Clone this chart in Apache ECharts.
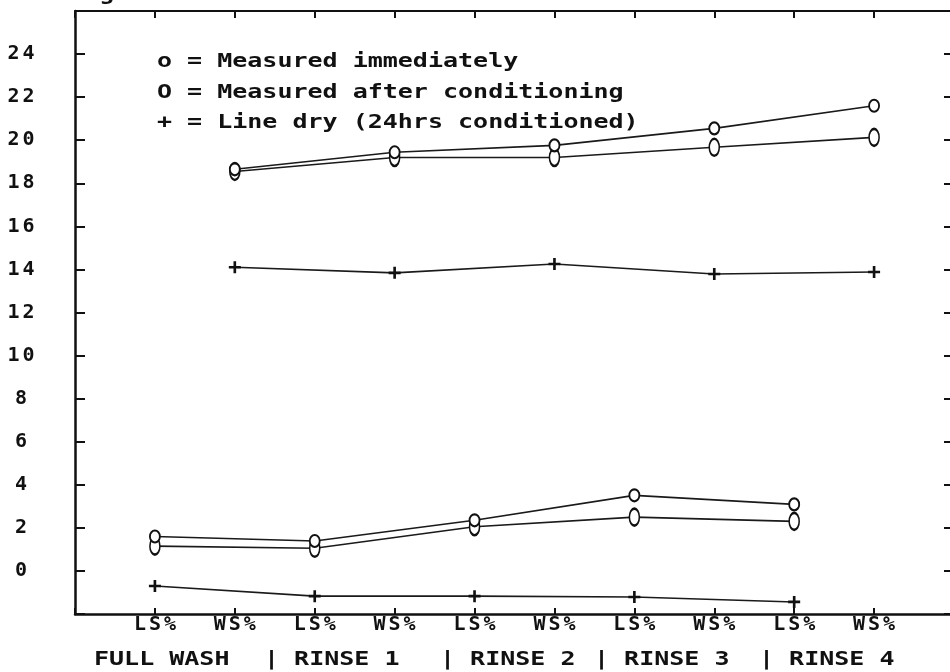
<!DOCTYPE html>
<html><head><meta charset="utf-8">
<script src="https://cdn.jsdelivr.net/npm/echarts@6/dist/echarts.min.js"></script>
<style>html,body{margin:0;padding:0;background:#fff}#c{width:950px;height:672px}</style>
</head><body><div id="c"></div>
<script>
// ---- data ----
const tickLabels = ['LS%','WS%','LS%','WS%','LS%','WS%','LS%','WS%','LS%','WS%'];
const lsPos = [1, 3, 5, 7, 9];
const wsPos = [2, 4, 6, 8, 10];
const immediateLS   = [1.6, 1.39, 2.35, 3.51, 3.09];
const conditionedLS = [1.15, 1.05, 2.05, 2.5, 2.3];
const lineDryLS     = [-0.7, -1.17, -1.17, -1.21, -1.44];
const immediateWS   = [18.65, 19.44, 19.76, 20.55, 21.6];
const conditionedWS = [18.55, 19.2, 19.2, 19.67, 20.13];
const lineDryWS     = [14.1, 13.84, 14.25, 13.79, 13.88];
const groupLabels = ['FULL WASH', '| RINSE 1', '| RINSE 2', '| RINSE 3', '| RINSE 4'];
const legendLabels = ['o = Measured immediately', 'O = Measured after conditioning', '+ = Line dry (24hrs conditioned)'];
const headerText = 'Shrinkage';

// ---- layout / style ----
const FONT = "'DejaVu Sans Mono', 'Liberation Mono', monospace";
const INK = '#111';
const groupLabelX = [94, 264, 440, 594, 759];
const legendY = [61.5, 92.5, 123];

function spaced(s) {
  return s.split('').map(ch => '{c|' + ch + '}').join('');
}
const richCell = { c: { width: 15, align: 'center', fontSize: 20, fontWeight: 'bold', fontFamily: FONT, color: INK } };

const ellipse = 'path://M0,-1A1,1,0,1,1,0,1A1,1,0,1,1,0,-1Z';
const plus = 'path://M-0.22,-1H0.22V-0.22H1V0.22H0.22V1H-0.22V0.22H-1V-0.22H-0.22Z';

function pairs(xs, ys) { return xs.map((x, i) => [x, ys[i]]); }

function lineSeries(name, xs, ys, kind) {
  const s = {
    name, type: 'line', data: pairs(xs, ys),
    xAxisIndex: 0, yAxisIndex: 0,
    lineStyle: { color: '#1a1a1a', width: 1.6 },
    showSymbol: true, symbolKeepAspect: false,
    emphasis: { disabled: true }, silent: true, animation: false
  };
  if (kind === 'o') {
    s.symbol = ellipse; s.symbolSize = [10, 12];
    s.itemStyle = { color: '#fff', borderColor: INK, borderWidth: 2 };
  } else if (kind === 'O') {
    s.symbol = ellipse; s.symbolSize = [10, 17];
    s.itemStyle = { color: '#fff', borderColor: INK, borderWidth: 2 };
  } else {
    s.symbol = plus; s.symbolSize = [12, 12];
    s.itemStyle = { color: INK, borderWidth: 0 };
  }
  return s;
}

function textEl(str, x, y) {
  return {
    type: 'text', x: x, y: y, scaleX: 1.25, silent: true,
    style: { text: str, font: 'bold 20px ' + FONT, fill: INK, align: 'left', verticalAlign: 'middle' }
  };
}

const graphics = [];
legendLabels.forEach((t, i) => graphics.push(textEl(t, 157, legendY[i])));
groupLabels.forEach((t, i) => graphics.push(textEl(t, groupLabelX[i], 660)));
graphics.push(textEl(headerText, -6, -5));

const axisLineStyle = { color: INK, width: 2.5 };

const option = {
  backgroundColor: '#fff',
  animation: false,
  grid: { left: 75, top: 11, width: 879, height: 603, containLabel: false, outerBoundsMode: 'none' },
  xAxis: [
    {
      type: 'value', position: 'bottom', min: 0, max: 11, interval: 1,
      axisLine: { show: true, onZero: false, lineStyle: axisLineStyle },
      axisTick: { show: true, inside: true, length: 6, lineStyle: { color: INK, width: 2 } },
      splitLine: { show: false },
      axisLabel: {
        show: true, margin: 11, verticalAlign: 'middle',
        formatter: v => (v >= 1 && v <= tickLabels.length) ? spaced(tickLabels[v - 1]) : '',
        rich: richCell
      }
    },
    {
      type: 'value', position: 'top', min: 0, max: 11, interval: 1,
      axisLine: { show: true, onZero: false, lineStyle: { color: INK, width: 2 } },
      axisTick: { show: true, inside: true, length: 7, lineStyle: { color: INK, width: 2 } },
      splitLine: { show: false }, axisLabel: { show: false }
    }
  ],
  yAxis: [
    {
      type: 'value', position: 'left', min: -2, max: 26, interval: 2,
      axisLine: { show: true, onZero: false, lineStyle: axisLineStyle },
      axisTick: { show: true, inside: true, length: 10, lineStyle: { color: INK, width: 2 } },
      splitLine: { show: false },
      axisLabel: {
        show: true, margin: 54, align: 'center',
        formatter: v => (v >= 0 && v <= 24) ? spaced(String(v)) : '',
        rich: richCell
      }
    },
    {
      type: 'value', position: 'right', min: -2, max: 26, interval: 2,
      axisLine: { show: true, onZero: false, lineStyle: axisLineStyle },
      axisTick: { show: true, inside: true, length: 10, lineStyle: { color: INK, width: 2 } },
      splitLine: { show: false }, axisLabel: { show: false }
    }
  ],
  series: [
    lineSeries('Line dry LS', lsPos, lineDryLS, '+'),
    lineSeries('Line dry WS', wsPos, lineDryWS, '+'),
    lineSeries('Measured after conditioning LS', lsPos, conditionedLS, 'O'),
    lineSeries('Measured after conditioning WS', wsPos, conditionedWS, 'O'),
    lineSeries('Measured immediately LS', lsPos, immediateLS, 'o'),
    lineSeries('Measured immediately WS', wsPos, immediateWS, 'o')
  ],
  graphic: graphics
};

const chart = echarts.init(document.getElementById('c'), null, { renderer: 'canvas' });
chart.setOption(option);
</script>
</body></html>
